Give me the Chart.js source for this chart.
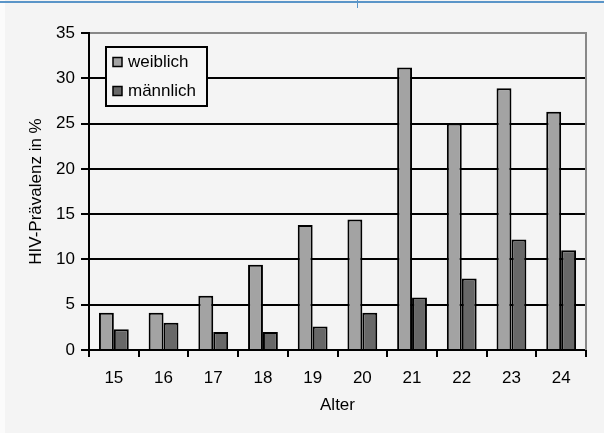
<!DOCTYPE html>
<html>
<head>
<meta charset="utf-8">
<script src="https://cdn.jsdelivr.net/npm/chart.js@4"></script>
<style>
    body { margin: 0; background: #f4f4f4; width: 604px; height: 433px; overflow: hidden; position: relative; }
    #strip { position: absolute; left: 0; top: 0; width: 5px; height: 433px; background: #fbfbfb; }
    #topline { position: absolute; left: 0; top: 1px; width: 604px; height: 2px; background: #5a95c8; }
    #topmark { position: absolute; left: 357px; top: 0; width: 1px; height: 8px; background: #5a95c8; }
    canvas { position: absolute; left: 0; top: 0; }
</style>
</head>
<body>
<div id="strip"></div>
<div id="topline"></div>
<div id="topmark"></div>
<canvas id="chart" width="604" height="433"></canvas>
<script>
const ages = ['15', '16', '17', '18', '19', '20', '21', '22', '23', '24'];
const female = [4.1, 4.1, 6.0, 9.4, 13.8, 14.4, 31.2, 25.0, 28.9, 26.3];
const male = [2.3, 3.0, 2.0, 2.0, 2.6, 4.1, 5.8, 7.9, 12.2, 11.0];

const font = 'Arial, "Liberation Sans", sans-serif';
const fontSize = 17;

// plot border (right side) + legend box drawn inside the plot area
const plotExtras = {
    id: 'plotExtras',
    afterDatasetsDraw(chart) {
        const ctx = chart.ctx;
        const a = chart.chartArea;
        ctx.save();
        ctx.strokeStyle = '#888';
        ctx.lineWidth = 2;
        ctx.beginPath();
        ctx.moveTo(a.right, a.top - 1);
        ctx.lineTo(a.right, a.bottom);
        ctx.stroke();

        // legend
        ctx.fillStyle = '#f6f6f6';
        ctx.fillRect(106, 47, 101, 59);
        ctx.strokeStyle = '#000';
        ctx.lineWidth = 2;
        ctx.strokeRect(106, 47, 101, 59);
        ctx.font = fontSize + 'px ' + font;
        ctx.textBaseline = 'middle';
        chart.data.datasets.forEach((ds, i) => {
            const y = 62 + i * 29;
            ctx.fillStyle = ds.backgroundColor;
            ctx.fillRect(113, y - 4.5, 9, 9);
            ctx.lineWidth = 1.5;
            ctx.strokeRect(113, y - 4.5, 9, 9);
            ctx.fillStyle = '#000';
            ctx.fillText(ds.label, 128, y);
        });
        ctx.restore();
    }
};

new Chart(document.getElementById('chart'), {
    type: 'bar',
    data: {
        labels: ages,
        datasets: [
            { label: 'weiblich', data: female, backgroundColor: '#a3a3a3', borderColor: '#000', borderWidth: 2 },
            { label: 'männlich', data: male, backgroundColor: '#686868', borderColor: '#000', borderWidth: 2 }
        ]
    },
    options: {
        responsive: false,
        devicePixelRatio: 1,
        animation: false,
        layout: { padding: { top: 33, right: 18, left: 0, bottom: 0 } },
        datasets: { bar: { categoryPercentage: 0.6, barPercentage: 1.0 } },
        plugins: { legend: { display: false }, tooltip: { enabled: false } },
        scales: {
            x: {
                afterFit: s => { s.height = 83; },
                grid: { drawOnChartArea: false, drawTicks: true, tickLength: 7, color: '#000', lineWidth: 2, offset: true },
                border: { color: '#000', width: 2 },
                ticks: { color: '#000', font: { family: font, size: fontSize }, padding: 11 },
                title: { display: true, text: 'Alter', color: '#000', font: { family: font, size: fontSize }, padding: { top: 0, bottom: 17 } }
            },
            y: {
                min: 0,
                max: 35,
                afterFit: s => { s.width = 89; },
                grid: {
                    color: c => (c.tick && c.tick.value === 35) ? '#888' : '#000',
                    tickColor: '#000',
                    lineWidth: 2,
                    tickLength: 8
                },
                border: { color: '#000', width: 2 },
                ticks: { stepSize: 5, color: '#000', font: { family: font, size: fontSize }, padding: 6 },
                title: { display: true, text: 'HIV-Prävalenz in %', color: '#000', font: { family: font, size: fontSize }, padding: { top: 26, bottom: 0 } }
            }
        }
    },
    plugins: [plotExtras]
});
</script>
</body>
</html>
